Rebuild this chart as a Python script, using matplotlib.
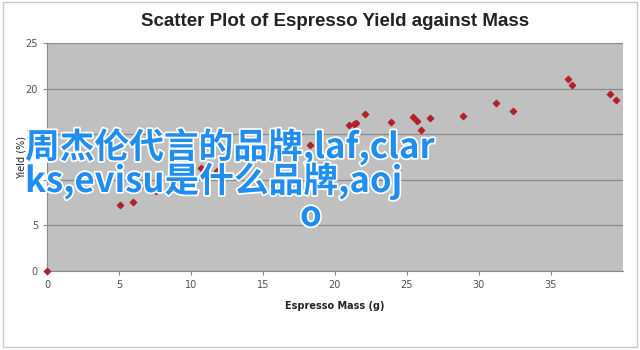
import matplotlib
matplotlib.use("Agg")
import matplotlib.pyplot as plt
import matplotlib.patheffects as pe
from matplotlib.patches import Rectangle

# data
mass = [0.0, 5.1, 6.0, 6.5, 7.6, 9.9, 10.1, 10.7, 11.8, 12.6, 17.5, 18.3,
        21.0, 21.3, 21.5, 22.1, 23.9, 25.4, 25.7, 26.0, 26.6, 28.9,
        31.2, 32.4, 36.2, 36.5, 39.1, 39.5]
yield_pct = [0.0, 7.2, 7.6, 9.3, 8.8, 12.1, 10.3, 11.3, 11.0, 13.0, 15.0, 13.8,
             16.0, 16.1, 16.2, 17.2, 16.3, 16.9, 16.4, 15.5, 16.8, 17.0,
             18.4, 17.5, 21.1, 20.4, 19.4, 18.8]
x_ticks = [0, 5, 10, 15, 20, 25, 30, 35]
y_ticks = [0, 5, 10, 15, 20, 25]

overlay_lines = ["周杰伦代言的品牌,laf,clar", "ks,evisu是什么品牌,aoj", "o"]

INK = "#222222"
AXIS = "#8c8c8c"

fig = plt.figure(figsize=(6.4, 3.5), dpi=100)
fig.patch.set_facecolor("white")
fig.add_artist(Rectangle((0.004, 0.008), 0.992, 0.985, transform=fig.transFigure,
                         fill=False, edgecolor="#c8c8c8", linewidth=1.0))

ax = fig.add_axes([0.0734, 0.2257, 0.8996, 0.6514])
ax.set_facecolor("#c0c0c0")
ax.scatter(mass, yield_pct, marker="D", s=10, color="#b3202a", zorder=3, clip_on=False)

ax.set_xlim(0, 40)
ax.set_ylim(0, 25)
ax.set_xticks(x_ticks)
ax.set_yticks(y_ticks)
ax.tick_params(labelsize=7, colors=AXIS, labelcolor="#505050", length=3, width=0.8)
ax.yaxis.grid(True, color="#8a8a8a", linewidth=0.9)
ax.set_axisbelow(True)
for s in ["top", "right"]:
    ax.spines[s].set_visible(False)
ax.spines["left"].set_color(AXIS)
ax.spines["bottom"].set_color(AXIS)

ax.set_xlabel("Espresso Mass (g)", fontsize=7, color=INK, fontweight="bold", labelpad=8)
ax.set_ylabel("Yield (%)", fontsize=7, color=INK, labelpad=-1)
ax.set_title("Scatter Plot of Espresso Yield against Mass", fontsize=13.5,
             fontweight="bold", color=INK, family="Liberation Sans", pad=12)

# watermark text on top of the chart
fx = [25, 25, 300]
fy = [158, 192, 226]
for line, x, y in zip(overlay_lines, fx, fy):
    fig.text(x / 640, 1 - y / 350, line, fontsize=25, color="#1f8ef0",
             family=["Noto Sans CJK SC", "DejaVu Sans"], fontweight="bold",
             ha="left", va="baseline",
             path_effects=[pe.withStroke(linewidth=2.5, foreground="white")])

fig.savefig("out.png", dpi=100)
